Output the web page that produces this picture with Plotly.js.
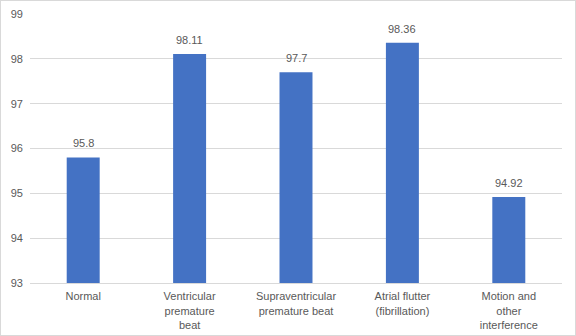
<!DOCTYPE html>
<html>
<head>
<meta charset="utf-8">
<script src="https://cdn.plot.ly/plotly-3.0.1.min.js"></script>
<style>
html,body{margin:0;padding:0;background:#fff;}
#chart{width:576px;height:336px;box-sizing:border-box;border:1px solid #d9d9d9;}
</style>
</head>
<body>
<div id="chart"></div>
<script>
const categories = ["Normal", "Ventricular<br>premature<br>beat", "Supraventricular<br>premature beat", "Atrial flutter<br>(fibrillation)", "Motion and<br>other<br>interference"];
const values = [95.8, 98.11, 97.7, 98.36, 94.92];
const valueLabels = ["95.8", "98.11", "97.7", "98.36", "94.92"];
const yTicks = [93, 94, 95, 96, 97, 98, 99];

const trace = {
  type: "bar",
  x: categories,
  y: values,
  base: 0,
  cliponaxis: true,
  marker: {color: "#4472C4"},
  hoverinfo: "none"
};

const annotations = categories.map((c, i) => ({
  x: c,
  y: values[i],
  text: valueLabels[i],
  showarrow: false,
  xanchor: "center",
  yanchor: "bottom",
  yshift: 6,
  font: {family: "Liberation Sans, Arial, sans-serif", size: 11, color: "#595959"}
}));

const layout = {
  width: 574,
  height: 334,
  margin: {l: 29, r: 13, t: 13, b: 52},
  paper_bgcolor: "#fff",
  plot_bgcolor: "#fff",
  bargap: 0.69,
  showlegend: false,
  annotations: annotations,
  font: {family: "Liberation Sans, Arial, sans-serif", size: 11, color: "#595959"},
  xaxis: {
    showgrid: false,
    showline: true,
    linecolor: "#d9d9d9",
    linewidth: 1,
    ticks: "",
    ticklabelstandoff: 3,
    tickfont: {size: 11, color: "#595959"},
    automargin: false
  },
  yaxis: {
    range: [93, 99],
    tickvals: yTicks,
    showgrid: true,
    gridcolor: "#d9d9d9",
    gridwidth: 1,
    zeroline: false,
    showline: false,
    ticks: "",
    ticklabelstandoff: 6,
    tickfont: {size: 11, color: "#595959"},
    automargin: false
  }
};

Plotly.newPlot("chart", [trace], layout, {displayModeBar: false, staticPlot: true});
</script>
</body>
</html>
